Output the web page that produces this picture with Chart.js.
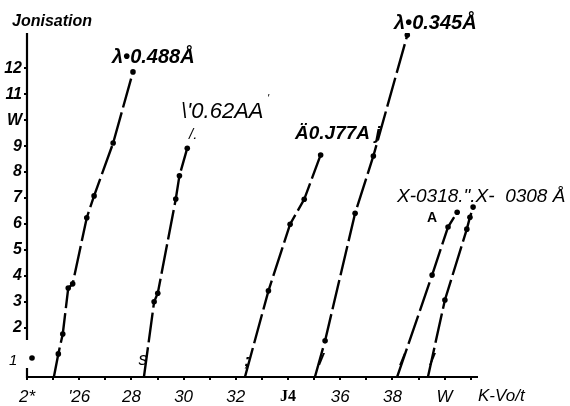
<!DOCTYPE html>
<html>
<head>
<meta charset="utf-8">
<script src="https://cdn.jsdelivr.net/npm/chart.js@4/dist/chart.umd.min.js"></script>
<style>
html,body{margin:0;padding:0;background:#fff;}
#wrap{width:570px;height:406px;position:relative;}
</style>
</head>
<body>
<div id="wrap"><canvas id="c" width="570" height="406"></canvas></div>
<script>
// ---- data ----
const kvTickValues = [24, 26, 28, 30, 32, 34, 36, 38, 40];
const kvTickLabels = ['2*', "'26", '28', '30', '32', 'J4', '36', '38', 'W'];
const ionTickValues = [2, 3, 4, 5, 6, 7, 8, 9, 10, 11, 12];
const ionTickLabels = ['2', '3', '4', '5', '6', '7', '8', '9', 'W', '11', '12'];

const seriesNames = ['λ=0.488Å', '0.62Å', '0.377Å', 'λ=0.345Å', '0.318Å', '0.308Å'];

const kv488 = [25.03, 25.20, 25.37, 25.58, 25.75, 26.29, 26.57, 27.30, 28.06];
const ion488 = [0.1, 0.99, 1.76, 3.53, 3.69, 6.24, 7.08, 9.12, 11.86];

const kv062 = [28.48, 28.87, 29.01, 29.70, 29.84, 30.14];
const ion062 = [0.1, 3.0, 3.33, 6.96, 7.86, 8.92];

const kv377 = [32.35, 33.25, 34.08, 34.62, 35.25];
const ion377 = [0.1, 3.42, 5.99, 6.95, 8.66];

const kv345 = [35.03, 35.42, 36.57, 37.27, 38.57];
const ion345 = [0.1, 1.5, 6.41, 8.62, 13.28];

const kv318 = [38.18, 39.52, 40.13, 40.48];
const ion318 = [0.1, 4.03, 5.88, 6.45];

const kv308 = [39.36, 40.01, 40.85, 40.97, 41.09];
const ion308 = [0.1, 3.07, 5.8, 6.26, 6.65];

const seriesKV = [kv488, kv062, kv377, kv345, kv318, kv308];
const seriesIon = [ion488, ion062, ion377, ion345, ion318, ion308];

const X_MIN = 24, X_MAX = 41.24, Y_MIN = 0.1, Y_MAX = 13.36;

// ---- chart ----
const datasets = seriesNames.map((name, i) => ({
  label: name,
  data: seriesKV[i].map((x, j) => ({ x: x, y: seriesIon[i][j] })),
  showLine: true,
  borderColor: '#000',
  backgroundColor: '#000',
  borderWidth: 2.4,
  borderDash: [30, 5],
  pointRadius: ctx => (ctx.raw && ctx.raw.y < 0.5) ? 0 : 2.8,
  pointBorderWidth: 0,
  tension: 0
}));

const annot = {
  id: 'annot',
  afterDraw(chart) {
    const ctx = chart.ctx;
    const y = chart.scales.y, x = chart.scales.x;
    ctx.save();
    // broken y axis
    ctx.strokeStyle = '#000';
    ctx.lineWidth = 2.2;
    const ax = x.getPixelForValue(X_MIN);
    ctx.beginPath();
    ctx.moveTo(ax, y.getPixelForValue(Y_MAX));
    ctx.lineTo(ax, y.getPixelForValue(1.53));
    ctx.moveTo(ax, y.getPixelForValue(0.45));
    ctx.lineTo(ax, y.getPixelForValue(Y_MIN) + 1);
    ctx.stroke();

    ctx.fillStyle = '#000';
    ctx.textBaseline = 'alphabetic';
    const t = (s, px, py, font, align) => {
      ctx.font = font; ctx.textAlign = align || 'left'; ctx.fillText(s, px, py);
    };
    t('Jonisation', 12, 26, 'italic bold 16px "Liberation Sans"');
    t('λ•0.488Å', 112, 63, 'italic bold 20px "Liberation Sans"');
    t('λ•0.345Å', 394, 29, 'italic bold 20px "Liberation Sans"');
    t("\\'0.62AA", 181, 118, 'italic 22px "Liberation Sans"');
    t("'", 267, 102, 'italic 11px "Liberation Sans"');
    t('/.', 189, 139, 'italic 15px "Liberation Sans"');
    t('Ä0.J77A j', 295, 139, 'italic bold 19px "Liberation Sans"');
    t('X-0318.".X-  0308 Å', 397, 202, 'italic 19px "Liberation Sans"');
    t('A', 427, 222, 'bold 14px "Liberation Sans"');
    t('1', 9, 365, 'italic 15px "Liberation Sans"');
    ctx.beginPath(); ctx.arc(32, 358, 2.8, 0, Math.PI * 2); ctx.fill();
    t('s', 143, 365, 'italic 18px "Liberation Sans"', 'center');
    t(';', 247, 366, 'italic bold 17px "Liberation Sans"', 'center');
    t('/', 321, 365, 'italic bold 17px "Liberation Sans"', 'center');
    t('/', 402, 365, 'italic bold 17px "Liberation Sans"', 'center');
    t('/', 432, 365, 'italic bold 17px "Liberation Sans"', 'center');
    t('K-Vo/t', 478, 401, 'italic 17px "Liberation Sans"');
    ctx.restore();
  }
};

new Chart(document.getElementById('c'), {
  type: 'scatter',
  data: { datasets },
  options: {
    responsive: false,
    animation: false,
    devicePixelRatio: 1,
    layout: { padding: { top: 33, right: 93, left: 0, bottom: 0 } },
    plugins: { legend: { display: false }, tooltip: { enabled: false } },
    scales: {
      x: {
        type: 'linear',
        min: X_MIN, max: X_MAX,
        afterBuildTicks: s => {
          const arr = [];
          for (let v = 24; v <= 41; v++) arr.push({ value: v });
          s.ticks = arr;
        },
        afterFit: s => { s.height = 29; },
        border: { display: true, color: '#000', width: 2 },
        grid: { display: true, drawOnChartArea: false, drawTicks: true, tickLength: 3, color: '#000', lineWidth: 2 },
        ticks: {
          autoSkip: false, maxRotation: 0, padding: 7, color: '#000',
          font: ctx => (ctx.tick && ctx.tick.value === 34)
            ? { family: '"Liberation Serif"', size: 16, weight: 'bold', style: 'normal' }
            : { family: '"Liberation Sans"', size: 17, style: 'italic' },
          callback: v => {
            const i = kvTickValues.indexOf(v);
            return i >= 0 ? kvTickLabels[i] : '';
          }
        }
      },
      y: {
        type: 'linear',
        min: Y_MIN, max: Y_MAX,
        afterBuildTicks: s => { s.ticks = ionTickValues.map(v => ({ value: v })); },
        afterFit: s => { s.width = 27; },
        border: { display: false },
        grid: { display: true, drawOnChartArea: false, drawTicks: true, tickLength: 3, color: '#000', lineWidth: 2 },
        ticks: {
          padding: 2, color: '#000',
          font: { family: '"Liberation Sans"', size: 16, style: 'italic', weight: 'bold' },
          callback: v => {
            const i = ionTickValues.indexOf(v);
            return i >= 0 ? ionTickLabels[i] : '';
          }
        }
      }
    }
  },
  plugins: [annot]
});
</script>
</body>
</html>
